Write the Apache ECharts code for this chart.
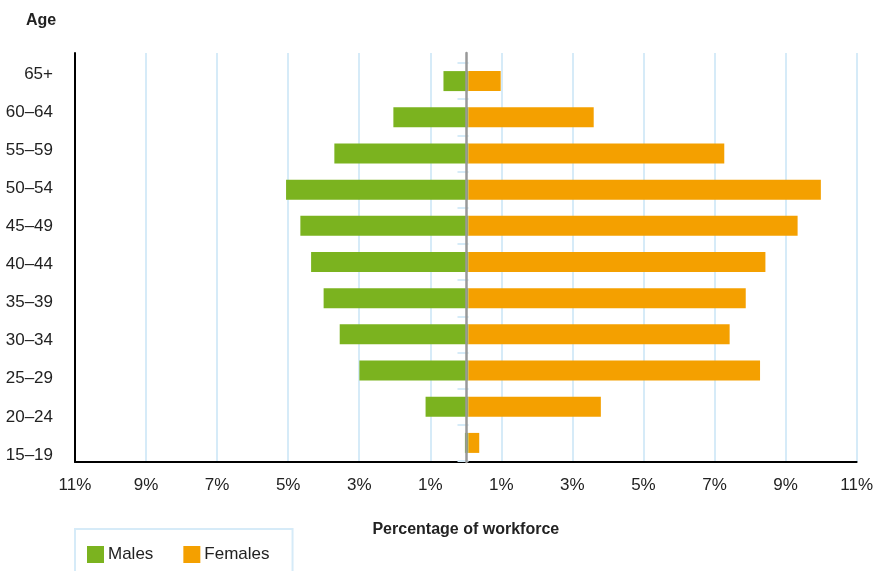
<!DOCTYPE html>
<html>
<head>
<meta charset="utf-8">
<title>Workforce by age and sex</title>
<script src="https://cdn.jsdelivr.net/npm/echarts@6/dist/echarts.min.js"></script>
<style>
  html, body { margin: 0; padding: 0; background: #fff; }
  #chart { width: 876px; height: 571px; }
</style>
</head>
<body>
<div id="chart"></div>
<script>
// Age groups, bottom to top
const ageGroups = ['15–19', '20–24', '25–29', '30–34', '35–39', '40–44', '45–49', '50–54', '55–59', '60–64', '65+'];
// Share of the workforce (%) in each age group
const males = [0.1, 1.2, 3.05, 3.6, 4.05, 4.4, 4.7, 5.1, 3.75, 2.1, 0.7];
const females = [0.3, 3.7, 8.15, 7.3, 7.75, 8.3, 9.2, 9.85, 7.15, 3.5, 0.9];
// Axis range and tick step (percent)
const axisMin = -11;
const axisMax = 11;
const tickStep = 2;

const GREEN = '#7BB31F';
const ORANGE = '#F4A000';
const GRID_BLUE = '#D6EBF8';
const TEXT = '#222222';
const FONT = '"Liberation Sans", Arial, sans-serif';

const chart = echarts.init(document.getElementById('chart'), null, { renderer: 'canvas' });

const pct = v => Math.abs(v) + '%';

chart.setOption({
  animation: false,
  backgroundColor: '#ffffff',
  textStyle: { fontFamily: FONT, color: TEXT },
  title: {
    text: 'Age',
    left: 21,
    top: 8,
    textStyle: { fontFamily: FONT, fontSize: 16, fontWeight: 'bold', color: TEXT }
  },
  legend: {
    data: ['Males', 'Females'],
    left: 75,
    top: 529,
    orient: 'horizontal',
    icon: 'rect',
    itemWidth: 17,
    itemHeight: 17,
    itemGap: 30,
    padding: [17, 23, 22, 12],
    borderColor: GRID_BLUE,
    borderWidth: 2,
    textStyle: { fontFamily: FONT, fontSize: 17, color: TEXT, padding: [0, 0, 0, -1] }
  },
  grid: [
    // frame: split lines, outer axes
    { left: 75, right: 14, top: 53, bottom: 109 },
    // bars
    { left: 75, right: 14, top: 63, bottom: 110 },
    // age labels
    { left: 75, right: 14, top: 55, bottom: 97 }
  ],
  xAxis: [
    {
      gridIndex: 0,
      type: 'value',
      min: axisMin,
      max: axisMax,
      interval: tickStep,
      axisLine: { show: true, onZero: false, lineStyle: { color: '#000', width: 2 } },
      axisTick: { show: false },
      axisLabel: { formatter: pct, fontSize: 17, color: TEXT, margin: 15, fontFamily: FONT },
      splitLine: { show: true, lineStyle: { color: GRID_BLUE, width: 2 } },
      name: 'Percentage of workforce',
      nameLocation: 'middle',
      nameGap: 60,
      nameTextStyle: { fontSize: 16, fontWeight: 'bold', color: TEXT, fontFamily: FONT }
    },
    {
      gridIndex: 1,
      type: 'value',
      min: axisMin,
      max: axisMax,
      show: false
    },
    {
      gridIndex: 2,
      type: 'value',
      min: axisMin,
      max: axisMax,
      show: false
    }
  ],
  yAxis: [
    {
      gridIndex: 0,
      type: 'value',
      position: 'left',
      min: 0,
      max: 1,
      axisLine: { show: true, onZero: false, lineStyle: { color: '#000', width: 2 } },
      axisTick: { show: false },
      axisLabel: { show: false },
      splitLine: { show: false }
    },
    {
      gridIndex: 0,
      type: 'value',
      min: 0,
      max: 1,
      z: 10,
      axisLine: { show: true, onZero: true, lineStyle: { color: '#999999', width: 2.5 } },
      axisTick: { show: false },
      axisLabel: { show: false },
      splitLine: { show: false }
    },
    {
      gridIndex: 1,
      type: 'category',
      position: 'left',
      data: ageGroups,
      axisLine: { show: false, onZero: true },
      axisTick: { show: true, length: 11, lineStyle: { color: GRID_BLUE, width: 2 } },
      axisLabel: { show: false },
      splitLine: { show: false }
    },
    {
      gridIndex: 2,
      type: 'category',
      position: 'left',
      data: ageGroups,
      axisLine: { show: false, onZero: false },
      axisTick: { show: false },
      axisLabel: { fontSize: 17, color: TEXT, margin: 22, fontFamily: FONT },
      splitLine: { show: false }
    }
  ],
  series: [
    {
      name: 'Males',
      type: 'bar',
      xAxisIndex: 1,
      yAxisIndex: 2,
      barWidth: 20,
      barGap: '-100%',
      itemStyle: { color: GREEN },
      data: males.map(v => -v)
    },
    {
      name: 'Females',
      type: 'bar',
      xAxisIndex: 1,
      yAxisIndex: 2,
      barWidth: 20,
      barGap: '-100%',
      itemStyle: { color: ORANGE },
      data: females
    }
  ]
});
</script>
</body>
</html>
